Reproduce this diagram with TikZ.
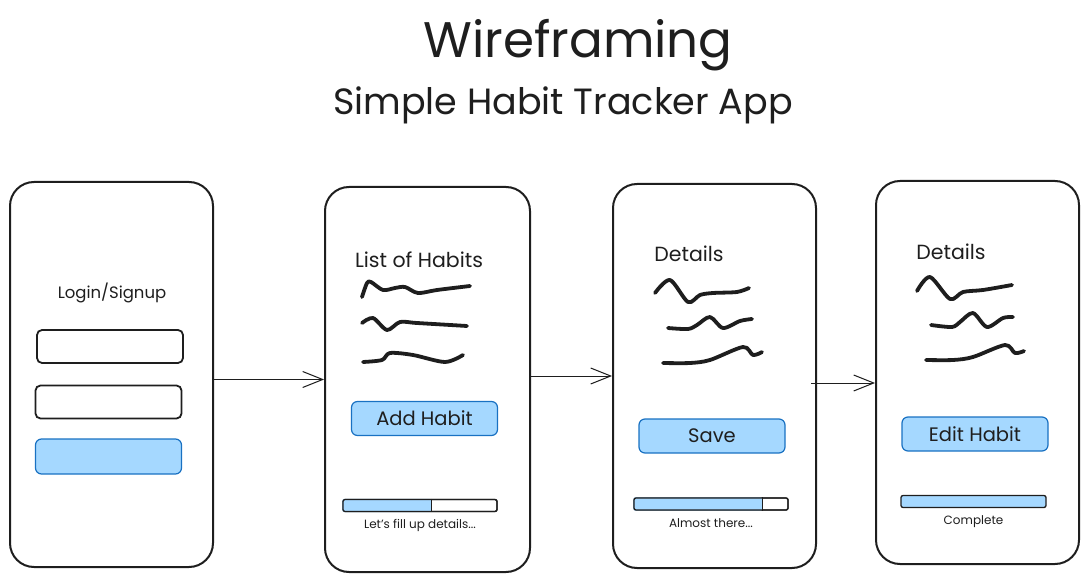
\documentclass[tikz,border=0pt]{standalone}
\usepackage{fontspec}
\setmainfont{Poppins}
\usepackage{xcolor}
\usepackage{tikz}
\usetikzlibrary{positioning,arrows.meta}

\definecolor{ink}{HTML}{1E1E1E}
\definecolor{btnfill}{HTML}{A5D8FF}
\definecolor{btnline}{HTML}{1971C2}

\begin{document}
\begin{tikzpicture}[
  x=1pt, y=-1pt,
  phone/.style={rectangle, draw=ink, line width=2pt, rounded corners=24pt, inner sep=0pt},
  field/.style={rectangle, draw=ink, line width=1.8pt, rounded corners=5pt, minimum width=146pt, minimum height=33pt, inner sep=0pt},
  button/.style={rectangle, draw=btnline, fill=btnfill, line width=1.2pt, rounded corners=6pt, minimum width=146pt, minimum height=34pt, inner sep=0pt, font=\fontsize{19.5}{22}\selectfont, text=ink},
  bar/.style={rectangle, draw=ink, line width=1.3pt, rounded corners=2pt, minimum width=154pt, minimum height=12pt, inner sep=0pt},
  heading/.style={font=\fontsize{20.5}{24}\selectfont, text=ink},
  caption/.style={font=\fontsize{12}{14}\selectfont, text=ink},
  squiggle/.style={draw=ink, line width=3.8pt, line cap=round, line join=round},
  arrow/.style={-{Straight Barb[length=20pt,width=16pt]}, draw=ink, line width=1pt}
]
\useasboundingbox (0,0) rectangle (1088,580);

% Title
\node[font=\fontsize{50}{54}\selectfont, text=ink] (title) at (578,45) {Wireframing};
\node[font=\fontsize{36.5}{40}\selectfont, text=ink] (subtitle) at (563,105) {Simple Habit Tracker App};

% Screen 1: login
\node[phone, minimum width=203pt, minimum height=385pt] (login) at (111.5,374.5) {};
\node[heading, font=\fontsize{16.5}{19}\selectfont] (logintitle) at (112,293) {Login/Signup};
\node[field] (user) at (110,346.5) {};
\node[field] (pass) at (108.5,402) {};
\node[button, minimum height=35pt] (loginbtn) at (108.5,456.5) {};

% Screen 2: list of habits
\node[phone, minimum width=205pt, minimum height=385pt] (habits) at (427.5,379.5) {};
\node[heading] (habitstitle) at (419,260) {List of Habits};
\draw[squiggle] plot[smooth] coordinates {(362,297) (367,283) (371,282) (383,290) (395,288) (405,287) (418,293) (437,290) (470,286)};
\draw[squiggle] plot[smooth] coordinates {(362,323) (373,318) (387,330) (400,322) (417,323) (467,326)};
\draw[squiggle] plot[smooth] coordinates {(363,362) (382,360) (390,353) (413,355) (445,362) (463,355)};
\node[button] (addbtn) at (424.5,418.5) {Add Habit};
\node[bar] (bar2) at (420,505.5) {};
\fill[btnfill, rounded corners=2pt] (bar2.north west) rectangle ([xshift=89pt]bar2.south west);
\draw[ink, line width=1.3pt] ([xshift=89pt]bar2.north west) -- ([xshift=89pt]bar2.south west);
\node[bar] at (bar2) {};
\node[caption, below=4pt of bar2] (bar2text) {Let's fill up details...};

% Screen 3: details
\node[phone, minimum width=203pt, minimum height=384pt] (details) at (714.5,376) {};
\node[heading] (detailstitle) at (689,254) {Details};
\draw[squiggle] plot[smooth] coordinates {(655,293) (670,280) (688,302) (700,295) (713,293) (737,292) (749,288)};
\draw[squiggle] plot[smooth] coordinates {(668,328) (688,329) (697,325) (710,317) (723,328) (740,321) (752,319)};
\draw[squiggle] plot[smooth] coordinates {(663,363) (690,363) (710,360) (743,347) (753,355) (762,352)};
\node[button] (savebtn) at (712,436) {Save};
\node[bar] (bar3) at (711,504) {};
\fill[btnfill, rounded corners=2pt] (bar3.north west) rectangle ([xshift=129pt]bar3.south west);
\draw[ink, line width=1.3pt] ([xshift=129pt]bar3.north west) -- ([xshift=129pt]bar3.south west);
\node[bar] at (bar3) {};
\node[caption, below=4pt of bar3] (bar3text) {Almost there...};

% Screen 4: edit
\node[phone, minimum width=203pt, minimum height=383pt] (edit) at (977.5,372.5) {};
\node[heading] (edittitle) at (951,252) {Details};
\draw[squiggle] plot[smooth] coordinates {(917,291) (930,277) (950,299) (963,292) (983,290) (1012,285)};
\draw[squiggle] plot[smooth] coordinates {(931,325) (952,327) (960,322) (973,313) (987,327) (1003,318) (1013,317)};
\draw[squiggle] plot[smooth] coordinates {(926,360) (953,360) (973,357) (1005,345) (1015,353) (1024,351)};
\node[button] (editbtn) at (975,434) {Edit Habit};
\node[bar, fill=btnfill, minimum width=145pt] (bar4) at (973.5,501.5) {};
\node[caption, below=4pt of bar4] (bar4text) {Complete};

% Flow arrows
\draw[arrow] (login.east |- habits.west) -- (habits.west);
\draw[arrow] (habits.east |- details.west) -- (details.west);
\draw[arrow] ([xshift=-6pt,yshift=-7pt]details.east) -- ([yshift=-10.5pt]edit.west);

\end{tikzpicture}
\end{document}
